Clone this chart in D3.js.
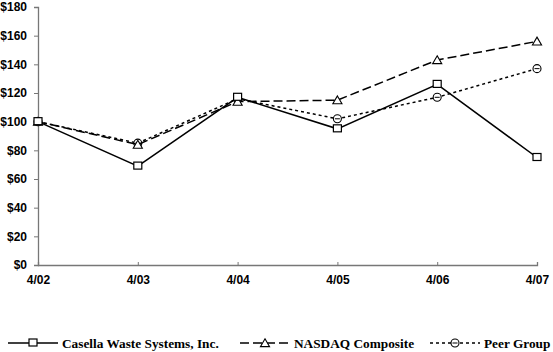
<!DOCTYPE html>
<html>
<head>
<meta charset="utf-8">
<script src="https://cdn.jsdelivr.net/npm/d3@7"></script>
<style>
  body { margin: 0; background: #fff; }
  .tick text { font-family: Arial, "Liberation Sans", sans-serif; font-weight: bold; font-size: 12px; fill: #000; }
  .legend text { font-family: "Liberation Serif", "Times New Roman", serif; font-weight: bold; font-size: 13.3px; fill: #000; }
</style>
</head>
<body>
<svg></svg>
<script>
let years = ["4/02", "4/03", "4/04", "4/05", "4/06", "4/07"];
let casella = [100, 69, 117, 95, 126, 75];
let nasdaq = [100, 84, 114, 115, 143, 156];
let peer = [100, 85, 116, 102, 117, 137];
let yTicks = [0, 20, 40, 60, 80, 100, 120, 140, 160, 180];

let width = 553;
let height = 352;

let svg = d3.select("svg").attr("width", width).attr("height", height);

let xScale = d3.scalePoint().domain(years).range([38, 537]);
let yScale = d3.scaleLinear().domain([0, 180]).range([265, 7]);

// axes
let yAxis = d3.axisLeft(yScale)
              .tickValues(yTicks)
              .tickFormat(d => "$" + d)
              .tickSize(4)
              .tickPadding(7);
let gy = svg.append("g")
            .attr("transform", "translate(38,0)")
            .call(yAxis);

let xAxis = d3.axisBottom(xScale)
              .tickSize(-3)
              .tickPadding(10);
let gx = svg.append("g")
            .attr("transform", "translate(0,265)")
            .call(xAxis);

[gx, gy].forEach(g => {
  g.select(".domain").attr("stroke", "#777").attr("stroke-width", 1.3);
  g.selectAll(".tick line").attr("stroke", "#777");
});
gx.selectAll(".tick text").attr("dy", "0.75em");

let series = [
  { name: "Casella Waste Systems, Inc.", values: casella, dash: null, marker: "square" },
  { name: "NASDAQ Composite", values: nasdaq, dash: "9,4", marker: "triangle" },
  { name: "Peer Group", values: peer, dash: "3,3", marker: "circle" }
];

let line = d3.line()
             .x((d, i) => xScale(years[i]))
             .y(d => yScale(d));

let drawMarker = (g, type, x, y) => {
  if (type === "square") {
    g.append("rect").attr("x", x - 4).attr("y", y - 4).attr("width", 8).attr("height", 7)
     .attr("fill", "#fff").attr("stroke", "#000").attr("stroke-width", 1.2);
  } else if (type === "triangle") {
    g.append("path").attr("d", d3.symbol(d3.symbolTriangle, 36)())
     .attr("transform", "translate(" + x + "," + (y + 1) + ")")
     .attr("fill", "#fff").attr("stroke", "#000").attr("stroke-width", 1.1);
  } else {
    g.append("circle").attr("cx", x).attr("cy", y).attr("r", 4)
     .attr("fill", "#fff").attr("stroke", "#000").attr("stroke-width", 1.1);
    g.append("line").attr("x1", x - 2.5).attr("x2", x + 2.5).attr("y1", y).attr("y2", y)
     .attr("stroke", "#000").attr("stroke-width", 1);
  }
};

// draw peer first so casella sits on top
[series[2], series[1], series[0]].forEach(s => {
  svg.append("path")
     .datum(s.values)
     .attr("d", line)
     .attr("fill", "none")
     .attr("stroke", "#000")
     .attr("stroke-width", 1.5)
     .attr("stroke-dasharray", s.dash);
  let mg = svg.append("g");
  s.values.forEach((v, i) => drawMarker(mg, s.marker, xScale(years[i]), yScale(v)));
});

// legend
let legendX = [8, 240, 430];
let legend = svg.append("g").attr("class", "legend");
series.forEach((s, i) => {
  let x0 = legendX[i];
  let ly = 343;
  legend.append("line")
        .attr("x1", x0).attr("x2", x0 + 50).attr("y1", ly).attr("y2", ly)
        .attr("stroke", "#000").attr("stroke-width", 1.5)
        .attr("stroke-dasharray", s.dash);
  drawMarker(legend, s.marker, x0 + 25, ly);
  legend.append("text")
        .attr("x", x0 + 54).attr("y", ly + 5)
        .text(s.name);
});
</script>
</body>
</html>
